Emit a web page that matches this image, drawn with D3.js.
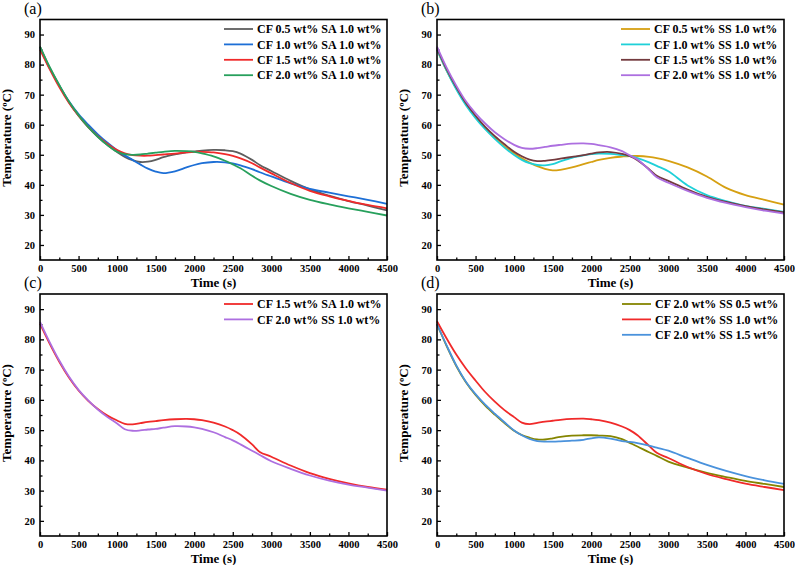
<!DOCTYPE html>
<html>
<head>
<meta charset="utf-8">
<script src="https://cdn.jsdelivr.net/npm/d3@7"></script>
<style>
  html, body { margin: 0; padding: 0; background: #fff; }
  svg { display: block; }
  text { font-family: "Liberation Serif", "Times New Roman", serif; }
</style>
</head>
<body>
<svg id="chart" width="795" height="565"></svg>
<script>
// ---------------- DATA ----------------
const timeS = [0, 125, 250, 375, 500, 625, 750, 875, 1000, 1100, 1200, 1300, 1400, 1500, 1600, 1750, 1900, 2000, 2100, 2250, 2400, 2500, 2600, 2750, 2850, 3000, 3250, 3500, 3750, 4000, 4250, 4500];

const xTicks = [0, 500, 1000, 1500, 2000, 2500, 3000, 3500, 4000, 4500];
const xMinorTicks = [250, 750, 1250, 1750, 2250, 2750, 3250, 3750, 4250];
const yTicks = [20, 30, 40, 50, 60, 70, 80, 90];
const yMinorTicks = [25, 35, 45, 55, 65, 75, 85];

const panelLabels = ["(a)", "(b)", "(c)", "(d)"];
const xTitle = "Time (s)";
const yTitle = "Temperature (\u00BAC)";

// Panel (a)
const aNames = ["CF 0.5 wt% SA 1.0 wt%", "CF 1.0 wt% SA 1.0 wt%", "CF 1.5 wt% SA 1.0 wt%", "CF 2.0 wt% SA 1.0 wt%"];
const aGray  = [86, 79, 73, 67.5, 63, 59.2, 56, 53.2, 50.9, 49.3, 48.2, 47.6, 47.7, 48.3, 49.2, 50.1, 50.8, 51.1, 51.4, 51.6, 51.5, 51.2, 50.4, 48.3, 46.6, 44.6, 41.3, 38.5, 36.4, 34.6, 33.1, 31.5];
const aBlue  = [85.5, 78.8, 73, 67.8, 63.5, 60, 56.8, 54, 51.5, 49.8, 48.3, 46.8, 45.4, 44.4, 43.9, 44.5, 45.8, 46.6, 47.2, 47.6, 47.5, 47.1, 46.5, 45.2, 44.2, 42.8, 40.5, 38.7, 37.4, 36.2, 35, 33.7];
const aRed   = [85, 78.5, 72.5, 67.3, 63, 59.3, 56.2, 53.6, 51.6, 50.5, 49.9, 49.7, 49.7, 49.9, 50.1, 50.4, 50.8, 51, 51, 50.8, 50.2, 49.6, 48.8, 47.2, 45.8, 43.8, 40.6, 38, 36.2, 34.7, 33.3, 32.2];
const aGreen = [86, 79.2, 73.2, 67.7, 63.2, 59.3, 56, 53.2, 51, 50.2, 50, 50.1, 50.4, 50.7, 51, 51.3, 51.2, 51, 50.5, 49.5, 48, 46.8, 45.5, 43, 41.5, 39.6, 37, 35, 33.5, 32.2, 31, 29.8];
const aColors = ["#5e5e5e", "#1d6fd6", "#f02a2a", "#27a05c"];

// Panel (b)
const bNames = ["CF 0.5 wt% SS 1.0 wt%", "CF 1.0 wt% SS 1.0 wt%", "CF 1.5 wt% SS 1.0 wt%", "CF 2.0 wt% SS 1.0 wt%"];
const bOrange = [85, 78, 72, 66.8, 62.5, 58.8, 55.6, 52.8, 50.5, 48.8, 47.4, 46.2, 45.3, 44.8, 45, 45.8, 46.9, 47.6, 48.3, 49, 49.4, 49.6, 49.6, 49.3, 48.9, 48, 45.8, 42.8, 39, 36.6, 35, 33.4];
const bCyan   = [85, 78, 71.8, 66.5, 62.2, 58.5, 55.3, 52.4, 49.9, 48.3, 47.2, 46.6, 46.5, 46.9, 47.8, 49, 49.8, 50.2, 50.4, 50.3, 49.9, 49.6, 48.9, 47.5, 46.3, 44.5, 39.8, 36.6, 34.6, 33, 32, 31];
const bBrown  = [85.5, 78.5, 72.5, 67.2, 63, 59.3, 56.2, 53.5, 51, 49.5, 48.4, 47.9, 48, 48.3, 48.7, 49.3, 49.9, 50.4, 50.8, 50.9, 50.3, 49.5, 48.2, 45.2, 43, 41.3, 38.4, 36, 34.3, 32.9, 31.8, 30.8];
const bPurple = [86, 79, 73, 67.8, 63.8, 60.4, 57.5, 55.2, 53.3, 52.3, 52, 52.2, 52.6, 53, 53.3, 53.7, 53.8, 53.6, 53.2, 52.5, 51.2, 49.8, 48.4, 45, 42.5, 40.7, 38, 35.7, 34, 32.6, 31.4, 30.4];
const bColors = ["#d6a012", "#1fd0d8", "#733a3e", "#ad6fe0"];

// Panel (c)
const cNames = ["CF 1.5 wt% SA 1.0 wt%", "CF 2.0 wt% SS 1.0 wt%"];
const cRed    = [85.2, 78.6, 72.6, 67.4, 63.1, 59.7, 57, 54.8, 53.2, 52.1, 51.9, 52.3, 52.7, 53, 53.3, 53.6, 53.7, 53.6, 53.3, 52.5, 51.2, 50, 48.5, 45.3, 42.8, 41.2, 38.3, 35.8, 33.9, 32.4, 31.2, 30.3];
const cPurple = [85.8, 79.1, 73, 67.7, 63.3, 59.8, 56.8, 54.3, 52.2, 50.3, 49.8, 49.9, 50.2, 50.4, 50.8, 51.3, 51.2, 50.9, 50.4, 49.3, 47.7, 46.6, 45.3, 43.2, 41.8, 39.7, 37.2, 35, 33.3, 32, 31, 30];
const cColors = ["#f02a2a", "#ad6fe0"];

// Panel (d)
const dNames = ["CF 2.0 wt% SS 0.5 wt%", "CF 2.0 wt% SS 1.0 wt%", "CF 2.0 wt% SS 1.5 wt%"];
const dOlive = [85, 77.8, 71.2, 65.8, 61.6, 58.1, 55.1, 52.3, 49.8, 48.4, 47.5, 46.9, 46.9, 47.3, 47.8, 48.2, 48.3, 48.3, 48.2, 48, 47, 45.8, 44.6, 42.7, 41.5, 39.6, 37.6, 35.9, 34.5, 33.2, 32.2, 31.2];
const dRed   = [86, 80.3, 75, 70.4, 66.4, 62.6, 59.4, 56.6, 54.3, 52.5, 52, 52.4, 52.8, 53.1, 53.4, 53.7, 53.8, 53.6, 53.3, 52.5, 51.2, 50, 48.3, 44.8, 42.5, 40.8, 37.8, 35.5, 33.8, 32.3, 31.2, 30.2];
const dBlue  = [85, 78, 71.4, 66, 61.9, 58.4, 55.4, 52.6, 49.9, 48.3, 47.1, 46.4, 46.2, 46.2, 46.3, 46.5, 46.8, 47.3, 47.6, 47.2, 46.4, 46.1, 45.7, 44.9, 44.2, 43.2, 40.8, 38.5, 36.5, 34.8, 33.4, 32.2];
const dColors = ["#858500", "#f02a2a", "#4a92dc"];

// ---------------- LAYOUT ----------------
const panels = [
  { label: panelLabels[0], names: aNames, series: [aGray, aBlue, aRed, aGreen], colors: aColors,
    x0: 40, x1: 387, y0: 19.5, y1: 260, legX: 224, legY: 29 },
  { label: panelLabels[1], names: bNames, series: [bOrange, bCyan, bBrown, bPurple], colors: bColors,
    x0: 437, x1: 784, y0: 19.5, y1: 260, legX: 621, legY: 29 },
  { label: panelLabels[2], names: cNames, series: [cRed, cPurple], colors: cColors,
    x0: 40, x1: 387, y0: 294, y1: 536, legX: 224, legY: 304 },
  { label: panelLabels[3], names: dNames, series: [dOlive, dRed, dBlue], colors: dColors,
    x0: 437, x1: 784, y0: 294, y1: 536, legX: 622, legY: 304 }
];

const svg = d3.select("#chart");

panels.forEach(p => {
  const x = d3.scaleLinear().domain([0, 4500]).range([p.x0, p.x1]);
  const y = d3.scaleLinear().domain([15, 95]).range([p.y1, p.y0]);
  const g = svg.append("g");

  // axes (inward ticks)
  g.append("g").attr("transform", `translate(0,${p.y1})`)
    .call(d3.axisBottom(x).tickValues(xTicks).tickSize(-4).tickSizeOuter(0).tickPadding(5).tickFormat(d3.format("d")));
  g.append("g").attr("transform", `translate(0,${p.y1})`)
    .call(d3.axisBottom(x).tickValues(xMinorTicks).tickSize(-2.5).tickSizeOuter(0).tickFormat(""));
  g.append("g").attr("transform", `translate(${p.x0},0)`)
    .call(d3.axisLeft(y).tickValues(yTicks).tickSize(-4).tickSizeOuter(0).tickPadding(5).tickFormat(d3.format("d")));
  g.append("g").attr("transform", `translate(${p.x0},0)`)
    .call(d3.axisLeft(y).tickValues(yMinorTicks).tickSize(-2.5).tickSizeOuter(0).tickFormat(""));

  g.selectAll(".domain").remove();
  g.selectAll(".tick line").attr("stroke", "#000").attr("stroke-width", 1.3);
  g.selectAll(".tick text").attr("font-family", "Liberation Serif, serif")
    .attr("font-weight", "bold").attr("font-size", 10.5).attr("fill", "#000");

  // curves
  const line = d3.line().x((d, i) => x(timeS[i])).y(d => y(d)).curve(d3.curveCatmullRom.alpha(0.5));
  p.series.forEach((s, i) => {
    g.append("path").datum(s).attr("d", line)
      .attr("fill", "none").attr("stroke", p.colors[i]).attr("stroke-width", 1.8)
      .attr("stroke-linejoin", "round");
  });

  // frame
  g.append("rect").attr("x", p.x0).attr("y", p.y0)
    .attr("width", p.x1 - p.x0).attr("height", p.y1 - p.y0)
    .attr("fill", "none").attr("stroke", "#000").attr("stroke-width", 1.6);

  // titles
  g.append("text").attr("x", (p.x0 + p.x1) / 2).attr("y", p.y1 + 27)
    .attr("text-anchor", "middle").attr("font-weight", "bold").attr("font-size", 13)
    .text(xTitle);
  g.append("text")
    .attr("transform", `translate(${p.x0 - 29},${(p.y0 + p.y1) / 2 - 2}) rotate(-90)`)
    .attr("text-anchor", "middle").attr("font-weight", "bold").attr("font-size", 13)
    .text(yTitle);

  // panel label
  g.append("text").attr("x", p.x0 - 16).attr("y", p.y0 - 6)
    .attr("font-size", 16).text(p.label);

  // legend
  p.names.forEach((n, i) => {
    const ly = p.legY + i * 15.4;
    g.append("line").attr("x1", p.legX).attr("x2", p.legX + 29)
      .attr("y1", ly).attr("y2", ly)
      .attr("stroke", p.colors[i]).attr("stroke-width", 1.8);
    g.append("text").attr("x", p.legX + 33).attr("y", ly).attr("dy", "0.35em")
      .attr("font-weight", "bold").attr("font-size", 12).text(n);
  });
});
</script>
</body>
</html>
